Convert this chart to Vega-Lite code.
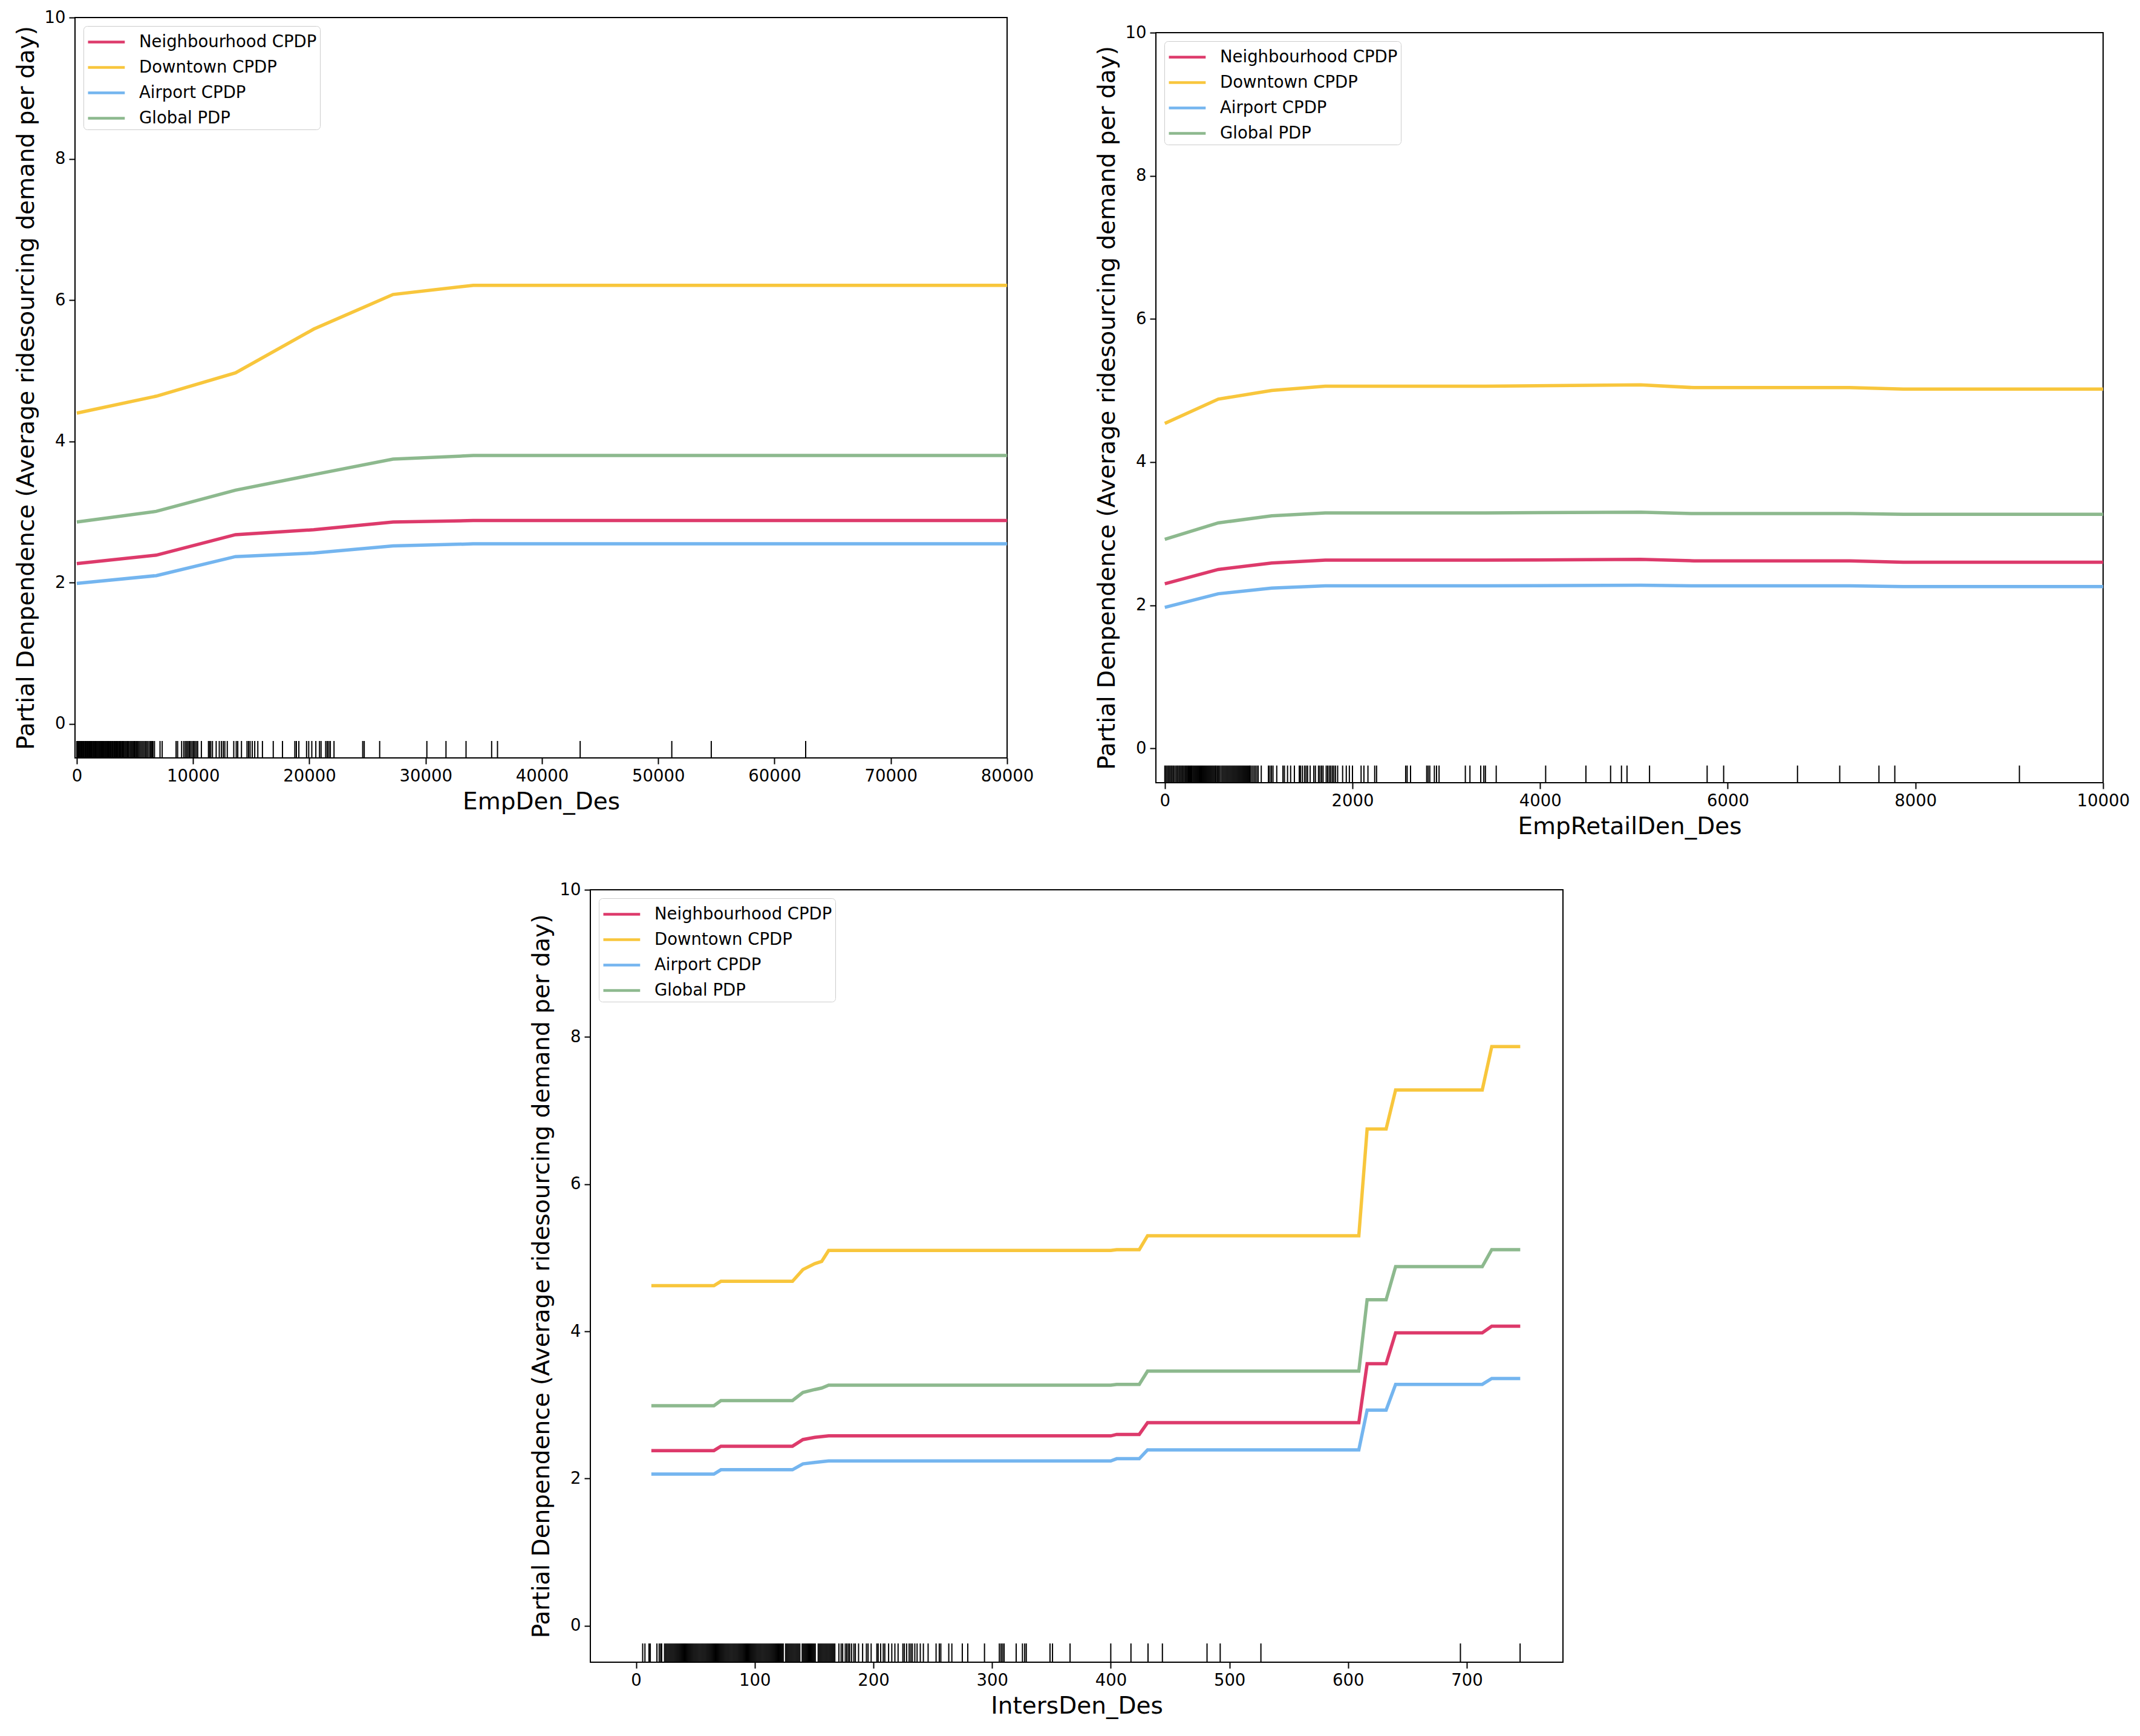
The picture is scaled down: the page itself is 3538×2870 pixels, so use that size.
{
  "$schema": "https://vega.github.io/schema/vega-lite/v6.json",
  "padding": {"left": 23, "top": 14, "right": 5, "bottom": 5},
  "background": "white",
  "datasets": {
    "tl_lines": [
      {"x": 0, "y": 2.27, "s": "Neighbourhood CPDP"}, {"x": 6830, "y": 2.39, "s": "Neighbourhood CPDP"}, {"x": 13650, "y": 2.68, "s": "Neighbourhood CPDP"}, {"x": 20380, "y": 2.75, "s": "Neighbourhood CPDP"}, {"x": 27200, "y": 2.86, "s": "Neighbourhood CPDP"}, {"x": 34100, "y": 2.88, "s": "Neighbourhood CPDP"}, {"x": 80000, "y": 2.88, "s": "Neighbourhood CPDP"},
      {"x": 0, "y": 4.40, "s": "Downtown CPDP"}, {"x": 6830, "y": 4.64, "s": "Downtown CPDP"}, {"x": 13650, "y": 4.97, "s": "Downtown CPDP"}, {"x": 20380, "y": 5.59, "s": "Downtown CPDP"}, {"x": 27200, "y": 6.08, "s": "Downtown CPDP"}, {"x": 34100, "y": 6.21, "s": "Downtown CPDP"}, {"x": 80000, "y": 6.21, "s": "Downtown CPDP"},
      {"x": 0, "y": 1.99, "s": "Airport CPDP"}, {"x": 6830, "y": 2.10, "s": "Airport CPDP"}, {"x": 13650, "y": 2.37, "s": "Airport CPDP"}, {"x": 20380, "y": 2.42, "s": "Airport CPDP"}, {"x": 27200, "y": 2.52, "s": "Airport CPDP"}, {"x": 34100, "y": 2.55, "s": "Airport CPDP"}, {"x": 80000, "y": 2.55, "s": "Airport CPDP"},
      {"x": 0, "y": 2.86, "s": "Global PDP"}, {"x": 6830, "y": 3.01, "s": "Global PDP"}, {"x": 13650, "y": 3.31, "s": "Global PDP"}, {"x": 20380, "y": 3.53, "s": "Global PDP"}, {"x": 27200, "y": 3.75, "s": "Global PDP"}, {"x": 34100, "y": 3.80, "s": "Global PDP"}, {"x": 80000, "y": 3.80, "s": "Global PDP"}
    ],
    "tl_rug": [
      {"x": 0}, {"x": 40}, {"x": 110}, {"x": 180}, {"x": 260}, {"x": 330}, {"x": 390}, {"x": 470}, {"x": 540}, {"x": 610}, {"x": 690}, {"x": 760}, {"x": 830}, {"x": 900}, {"x": 980}, {"x": 1050}, {"x": 1120}, {"x": 1200}, {"x": 1270}, {"x": 1340}, {"x": 1420}, {"x": 1490}, {"x": 1570}, {"x": 1640}, {"x": 1710}, {"x": 1790}, {"x": 1860}, {"x": 1940}, {"x": 2010}, {"x": 2090}, {"x": 2160}, {"x": 2240}, {"x": 2320}, {"x": 2390}, {"x": 2470}, {"x": 2550}, {"x": 2630}, {"x": 2710}, {"x": 2790}, {"x": 2870}, {"x": 2950}, {"x": 3030}, {"x": 3110}, {"x": 3190}, {"x": 3280}, {"x": 3360}, {"x": 3440}, {"x": 3530}, {"x": 3610}, {"x": 3700}, {"x": 3790}, {"x": 3870}, {"x": 3960}, {"x": 4050}, {"x": 4140}, {"x": 4230}, {"x": 4330}, {"x": 4420}, {"x": 4510}, {"x": 4610}, {"x": 4700}, {"x": 4800}, {"x": 4900}, {"x": 5000}, {"x": 5110}, {"x": 5210}, {"x": 5320}, {"x": 5430}, {"x": 5540}, {"x": 5650}, {"x": 5760}, {"x": 5880}, {"x": 6000}, {"x": 6110}, {"x": 6230}, {"x": 6350}, {"x": 6460}, {"x": 6550},
      {"x": 6684}, {"x": 7162}, {"x": 7347}, {"x": 8541}, {"x": 8674}, {"x": 9019}, {"x": 9204}, {"x": 9340}, {"x": 9450}, {"x": 9560}, {"x": 9680}, {"x": 9800}, {"x": 9920}, {"x": 10040}, {"x": 10160}, {"x": 10280}, {"x": 10400}, {"x": 10716}, {"x": 11326}, {"x": 11420}, {"x": 11520}, {"x": 11671}, {"x": 11989}, {"x": 12255}, {"x": 12440}, {"x": 12599}, {"x": 12732}, {"x": 12944}, {"x": 13501}, {"x": 13714}, {"x": 13846}, {"x": 14164}, {"x": 14642}, {"x": 14775}, {"x": 14907}, {"x": 15093}, {"x": 15305}, {"x": 15570}, {"x": 15968}, {"x": 16897}, {"x": 17692}, {"x": 18753}, {"x": 18886}, {"x": 19098}, {"x": 19761}, {"x": 19947}, {"x": 20212}, {"x": 20557}, {"x": 20875}, {"x": 21008}, {"x": 21406}, {"x": 21538}, {"x": 21671}, {"x": 21804}, {"x": 22122}, {"x": 24589}, {"x": 24721}, {"x": 26048}, {"x": 30106}, {"x": 31751}, {"x": 33475}, {"x": 35676}, {"x": 36180}, {"x": 43289}, {"x": 51167}, {"x": 54562}, {"x": 62679}
    ],
    "tr_lines": [
      {"x": 0, "y": 2.30, "s": "Neighbourhood CPDP"}, {"x": 570, "y": 2.50, "s": "Neighbourhood CPDP"}, {"x": 1140, "y": 2.59, "s": "Neighbourhood CPDP"}, {"x": 1710, "y": 2.63, "s": "Neighbourhood CPDP"}, {"x": 3420, "y": 2.63, "s": "Neighbourhood CPDP"}, {"x": 5070, "y": 2.64, "s": "Neighbourhood CPDP"}, {"x": 5640, "y": 2.62, "s": "Neighbourhood CPDP"}, {"x": 7300, "y": 2.62, "s": "Neighbourhood CPDP"}, {"x": 7870, "y": 2.60, "s": "Neighbourhood CPDP"}, {"x": 10000, "y": 2.60, "s": "Neighbourhood CPDP"},
      {"x": 0, "y": 4.54, "s": "Downtown CPDP"}, {"x": 570, "y": 4.88, "s": "Downtown CPDP"}, {"x": 1140, "y": 5.00, "s": "Downtown CPDP"}, {"x": 1710, "y": 5.06, "s": "Downtown CPDP"}, {"x": 3420, "y": 5.06, "s": "Downtown CPDP"}, {"x": 5070, "y": 5.08, "s": "Downtown CPDP"}, {"x": 5640, "y": 5.04, "s": "Downtown CPDP"}, {"x": 7300, "y": 5.04, "s": "Downtown CPDP"}, {"x": 7870, "y": 5.02, "s": "Downtown CPDP"}, {"x": 10000, "y": 5.02, "s": "Downtown CPDP"},
      {"x": 0, "y": 1.97, "s": "Airport CPDP"}, {"x": 570, "y": 2.16, "s": "Airport CPDP"}, {"x": 1140, "y": 2.24, "s": "Airport CPDP"}, {"x": 1710, "y": 2.27, "s": "Airport CPDP"}, {"x": 3420, "y": 2.27, "s": "Airport CPDP"}, {"x": 5070, "y": 2.28, "s": "Airport CPDP"}, {"x": 5640, "y": 2.27, "s": "Airport CPDP"}, {"x": 7300, "y": 2.27, "s": "Airport CPDP"}, {"x": 7870, "y": 2.26, "s": "Airport CPDP"}, {"x": 10000, "y": 2.26, "s": "Airport CPDP"},
      {"x": 0, "y": 2.92, "s": "Global PDP"}, {"x": 570, "y": 3.15, "s": "Global PDP"}, {"x": 1140, "y": 3.25, "s": "Global PDP"}, {"x": 1710, "y": 3.29, "s": "Global PDP"}, {"x": 3420, "y": 3.29, "s": "Global PDP"}, {"x": 5070, "y": 3.30, "s": "Global PDP"}, {"x": 5640, "y": 3.28, "s": "Global PDP"}, {"x": 7300, "y": 3.28, "s": "Global PDP"}, {"x": 7870, "y": 3.27, "s": "Global PDP"}, {"x": 10000, "y": 3.27, "s": "Global PDP"}
    ],
    "tr_rug": [
      {"x": 0}, {"x": 12}, {"x": 25}, {"x": 38}, {"x": 50}, {"x": 63}, {"x": 75}, {"x": 88}, {"x": 100}, {"x": 115}, {"x": 128}, {"x": 140}, {"x": 153}, {"x": 165}, {"x": 178}, {"x": 190}, {"x": 203}, {"x": 216}, {"x": 228}, {"x": 241}, {"x": 253}, {"x": 266}, {"x": 279}, {"x": 291}, {"x": 304}, {"x": 317}, {"x": 330}, {"x": 343}, {"x": 356}, {"x": 369}, {"x": 382}, {"x": 395}, {"x": 408}, {"x": 421}, {"x": 434}, {"x": 447}, {"x": 460}, {"x": 473}, {"x": 486}, {"x": 499}, {"x": 512}, {"x": 525}, {"x": 538}, {"x": 548}, {"x": 562}, {"x": 576}, {"x": 590}, {"x": 605}, {"x": 618}, {"x": 631}, {"x": 644}, {"x": 657}, {"x": 670}, {"x": 683}, {"x": 696}, {"x": 709}, {"x": 722}, {"x": 735}, {"x": 748}, {"x": 761}, {"x": 774}, {"x": 787}, {"x": 800}, {"x": 813}, {"x": 826}, {"x": 839}, {"x": 852}, {"x": 865}, {"x": 878}, {"x": 891}, {"x": 904}, {"x": 913},
      {"x": 929}, {"x": 946}, {"x": 962}, {"x": 979}, {"x": 995}, {"x": 1028}, {"x": 1104}, {"x": 1120}, {"x": 1137}, {"x": 1153}, {"x": 1193}, {"x": 1259}, {"x": 1275}, {"x": 1308}, {"x": 1341}, {"x": 1381}, {"x": 1433}, {"x": 1446}, {"x": 1466}, {"x": 1489}, {"x": 1506}, {"x": 1522}, {"x": 1549}, {"x": 1588}, {"x": 1605}, {"x": 1638}, {"x": 1654}, {"x": 1671}, {"x": 1687}, {"x": 1720}, {"x": 1736}, {"x": 1753}, {"x": 1769}, {"x": 1786}, {"x": 1802}, {"x": 1819}, {"x": 1842}, {"x": 1895}, {"x": 1934}, {"x": 1967}, {"x": 2000}, {"x": 2092}, {"x": 2122}, {"x": 2165}, {"x": 2237}, {"x": 2257}, {"x": 2567}, {"x": 2583}, {"x": 2619}, {"x": 2791}, {"x": 2807}, {"x": 2824}, {"x": 2873}, {"x": 2896}, {"x": 2923}, {"x": 3203}, {"x": 3252}, {"x": 3367}, {"x": 3400}, {"x": 3417}, {"x": 3532}, {"x": 4059}, {"x": 4488}, {"x": 4751}, {"x": 4867}, {"x": 4926}, {"x": 5166}, {"x": 5780}, {"x": 5956}, {"x": 6743}, {"x": 7193}, {"x": 7611}, {"x": 7780}, {"x": 9108}
    ],
    "b_lines": [
      {"x": 12.9, "y": 2.38, "s": "Neighbourhood CPDP"}, {"x": 65.6, "y": 2.38, "s": "Neighbourhood CPDP"}, {"x": 71.5, "y": 2.44, "s": "Neighbourhood CPDP"}, {"x": 131.8, "y": 2.44, "s": "Neighbourhood CPDP"}, {"x": 140.6, "y": 2.53, "s": "Neighbourhood CPDP"}, {"x": 150.6, "y": 2.56, "s": "Neighbourhood CPDP"}, {"x": 156.4, "y": 2.57, "s": "Neighbourhood CPDP"}, {"x": 162.3, "y": 2.58, "s": "Neighbourhood CPDP"}, {"x": 400, "y": 2.58, "s": "Neighbourhood CPDP"}, {"x": 405, "y": 2.60, "s": "Neighbourhood CPDP"}, {"x": 424, "y": 2.60, "s": "Neighbourhood CPDP"}, {"x": 431, "y": 2.76, "s": "Neighbourhood CPDP"}, {"x": 609, "y": 2.76, "s": "Neighbourhood CPDP"}, {"x": 616, "y": 3.56, "s": "Neighbourhood CPDP"}, {"x": 632, "y": 3.56, "s": "Neighbourhood CPDP"}, {"x": 640, "y": 3.98, "s": "Neighbourhood CPDP"}, {"x": 713, "y": 3.98, "s": "Neighbourhood CPDP"}, {"x": 721, "y": 4.07, "s": "Neighbourhood CPDP"}, {"x": 745, "y": 4.07, "s": "Neighbourhood CPDP"},
      {"x": 12.9, "y": 4.62, "s": "Downtown CPDP"}, {"x": 65.6, "y": 4.62, "s": "Downtown CPDP"}, {"x": 71.5, "y": 4.68, "s": "Downtown CPDP"}, {"x": 131.8, "y": 4.68, "s": "Downtown CPDP"}, {"x": 140.6, "y": 4.84, "s": "Downtown CPDP"}, {"x": 150.6, "y": 4.92, "s": "Downtown CPDP"}, {"x": 156.4, "y": 4.95, "s": "Downtown CPDP"}, {"x": 162.3, "y": 5.10, "s": "Downtown CPDP"}, {"x": 400, "y": 5.10, "s": "Downtown CPDP"}, {"x": 405, "y": 5.11, "s": "Downtown CPDP"}, {"x": 424, "y": 5.11, "s": "Downtown CPDP"}, {"x": 431, "y": 5.30, "s": "Downtown CPDP"}, {"x": 609, "y": 5.30, "s": "Downtown CPDP"}, {"x": 616, "y": 6.75, "s": "Downtown CPDP"}, {"x": 632, "y": 6.75, "s": "Downtown CPDP"}, {"x": 640, "y": 7.28, "s": "Downtown CPDP"}, {"x": 713, "y": 7.28, "s": "Downtown CPDP"}, {"x": 721, "y": 7.87, "s": "Downtown CPDP"}, {"x": 745, "y": 7.87, "s": "Downtown CPDP"},
      {"x": 12.9, "y": 2.06, "s": "Airport CPDP"}, {"x": 65.6, "y": 2.06, "s": "Airport CPDP"}, {"x": 71.5, "y": 2.12, "s": "Airport CPDP"}, {"x": 131.8, "y": 2.12, "s": "Airport CPDP"}, {"x": 140.6, "y": 2.20, "s": "Airport CPDP"}, {"x": 150.6, "y": 2.22, "s": "Airport CPDP"}, {"x": 156.4, "y": 2.23, "s": "Airport CPDP"}, {"x": 162.3, "y": 2.24, "s": "Airport CPDP"}, {"x": 400, "y": 2.24, "s": "Airport CPDP"}, {"x": 405, "y": 2.27, "s": "Airport CPDP"}, {"x": 424, "y": 2.27, "s": "Airport CPDP"}, {"x": 431, "y": 2.39, "s": "Airport CPDP"}, {"x": 609, "y": 2.39, "s": "Airport CPDP"}, {"x": 616, "y": 2.93, "s": "Airport CPDP"}, {"x": 632, "y": 2.93, "s": "Airport CPDP"}, {"x": 640, "y": 3.28, "s": "Airport CPDP"}, {"x": 713, "y": 3.28, "s": "Airport CPDP"}, {"x": 721, "y": 3.36, "s": "Airport CPDP"}, {"x": 745, "y": 3.36, "s": "Airport CPDP"},
      {"x": 12.9, "y": 2.99, "s": "Global PDP"}, {"x": 65.6, "y": 2.99, "s": "Global PDP"}, {"x": 71.5, "y": 3.06, "s": "Global PDP"}, {"x": 131.8, "y": 3.06, "s": "Global PDP"}, {"x": 140.6, "y": 3.17, "s": "Global PDP"}, {"x": 150.6, "y": 3.21, "s": "Global PDP"}, {"x": 156.4, "y": 3.23, "s": "Global PDP"}, {"x": 162.3, "y": 3.27, "s": "Global PDP"}, {"x": 400, "y": 3.27, "s": "Global PDP"}, {"x": 405, "y": 3.28, "s": "Global PDP"}, {"x": 424, "y": 3.28, "s": "Global PDP"}, {"x": 431, "y": 3.46, "s": "Global PDP"}, {"x": 609, "y": 3.46, "s": "Global PDP"}, {"x": 616, "y": 4.43, "s": "Global PDP"}, {"x": 632, "y": 4.43, "s": "Global PDP"}, {"x": 640, "y": 4.88, "s": "Global PDP"}, {"x": 713, "y": 4.88, "s": "Global PDP"}, {"x": 721, "y": 5.11, "s": "Global PDP"}, {"x": 745, "y": 5.11, "s": "Global PDP"}
    ],
    "b_rug": [
      {"x": 5.6}, {"x": 7.5}, {"x": 10.9}, {"x": 12}, {"x": 17.6}, {"x": 19.5}, {"x": 20.8}, {"x": 21.6},
      {"x": 24}, {"x": 25}, {"x": 26}, {"x": 27}, {"x": 28}, {"x": 29}, {"x": 30}, {"x": 31}, {"x": 32}, {"x": 33}, {"x": 34}, {"x": 35}, {"x": 36}, {"x": 37}, {"x": 38}, {"x": 39}, {"x": 40}, {"x": 41}, {"x": 42}, {"x": 43}, {"x": 44}, {"x": 45}, {"x": 46}, {"x": 47}, {"x": 48}, {"x": 49}, {"x": 50}, {"x": 51}, {"x": 52}, {"x": 53}, {"x": 54}, {"x": 55}, {"x": 56}, {"x": 57}, {"x": 58}, {"x": 59}, {"x": 60}, {"x": 61}, {"x": 62}, {"x": 63}, {"x": 64}, {"x": 65}, {"x": 66}, {"x": 67}, {"x": 68}, {"x": 69}, {"x": 70}, {"x": 71}, {"x": 72}, {"x": 73}, {"x": 74}, {"x": 75}, {"x": 76}, {"x": 77}, {"x": 78}, {"x": 79}, {"x": 80}, {"x": 81}, {"x": 82}, {"x": 83}, {"x": 84}, {"x": 85}, {"x": 86}, {"x": 87}, {"x": 88}, {"x": 89}, {"x": 90}, {"x": 91}, {"x": 92}, {"x": 93}, {"x": 94}, {"x": 95}, {"x": 96}, {"x": 97}, {"x": 98}, {"x": 99}, {"x": 100}, {"x": 101}, {"x": 102}, {"x": 103}, {"x": 104}, {"x": 105}, {"x": 106}, {"x": 107}, {"x": 108}, {"x": 109}, {"x": 110}, {"x": 111}, {"x": 112}, {"x": 113}, {"x": 114}, {"x": 115}, {"x": 116}, {"x": 117}, {"x": 118}, {"x": 119}, {"x": 120}, {"x": 121}, {"x": 122}, {"x": 123}, {"x": 124},
      {"x": 126}, {"x": 127}, {"x": 128}, {"x": 129}, {"x": 130}, {"x": 131}, {"x": 132}, {"x": 133}, {"x": 134}, {"x": 135}, {"x": 136}, {"x": 137}, {"x": 138},
      {"x": 140}, {"x": 141}, {"x": 142}, {"x": 143}, {"x": 144}, {"x": 145}, {"x": 146}, {"x": 147}, {"x": 148}, {"x": 149}, {"x": 150}, {"x": 151},
      {"x": 153.5}, {"x": 154.5}, {"x": 155.5}, {"x": 156.5}, {"x": 157.5}, {"x": 158.5}, {"x": 159.5}, {"x": 160.5}, {"x": 161.5}, {"x": 162.5}, {"x": 163.5}, {"x": 164.5}, {"x": 165.5}, {"x": 166.5}, {"x": 167.5},
      {"x": 170.9}, {"x": 172.8}, {"x": 174.1}, {"x": 176.3}, {"x": 177.6}, {"x": 178.9}, {"x": 180}, {"x": 181.6}, {"x": 183.5}, {"x": 184.8}, {"x": 187.5}, {"x": 190.9}, {"x": 194.1}, {"x": 195.5}, {"x": 198.1}, {"x": 202.9}, {"x": 204}, {"x": 206.1}, {"x": 208.3}, {"x": 209.6}, {"x": 212.8}, {"x": 215.5}, {"x": 218.1}, {"x": 220.8}, {"x": 224.8}, {"x": 226.1}, {"x": 228}, {"x": 230.1}, {"x": 231.5}, {"x": 232.8}, {"x": 234.9}, {"x": 236.8}, {"x": 239.5}, {"x": 242.1}, {"x": 246.1}, {"x": 252.8}, {"x": 255.5}, {"x": 256.8}, {"x": 263.5}, {"x": 266.1}, {"x": 274.9}, {"x": 279.5}, {"x": 293.6}, {"x": 306.1}, {"x": 307.5}, {"x": 308.8}, {"x": 310.1}, {"x": 320.3}, {"x": 325.6}, {"x": 327.5}, {"x": 328.8}, {"x": 348.8}, {"x": 350.9}, {"x": 365.7}, {"x": 400}, {"x": 417}, {"x": 431.4}, {"x": 443.5}, {"x": 481.1}, {"x": 492.2}, {"x": 526.5}, {"x": 694.6}, {"x": 744.9}
    ]
  },
  "config": {
    "font": "DejaVu Sans",
    "view": {"stroke": "black", "strokeWidth": 2},
    "axis": {
      "grid": false, "domain": false,
      "tickColor": "black", "tickWidth": 2, "tickSize": 10,
      "labelFont": "DejaVu Sans", "labelFontSize": 27.5, "labelColor": "black", "labelPadding": 6,
      "labelFlush": false, "labelOverlap": false, "labelBound": false,
      "titleFont": "DejaVu Sans", "titleFontSize": 39, "titleFontWeight": "normal", "titleColor": "black", "titlePadding": 10
    },
    "legend": {
      "orient": "top-left", "offset": 14, "title": null,
      "padding": 5, "rowPadding": 7, "labelLimit": 800,
      "strokeColor": "#cccccc", "fillColor": "rgba(255,255,255,0.85)", "cornerRadius": 6,
      "symbolType": "M-1,0H2.2", "symbolSize": 1444, "symbolStrokeWidth": 4.5,
      "labelFont": "DejaVu Sans", "labelFontSize": 27.5, "labelColor": "black", "labelOffset": 44
    }
  },
  "resolve": {"scale": {"x": "independent", "y": "independent", "color": "independent"}, "legend": {"color": "independent"}},
  "spacing": 68,
  "vconcat": [
    {
      "hconcat": [
        {
          "width": 1541, "height": 1224,
          "layer": [
            {
              "data": {"name": "tl_lines"},
              "mark": {"type": "line", "clip": true, "strokeWidth": 5.5},
              "encoding": {
                "x": {"field": "x", "type": "quantitative", "title": "EmpDen_Des", "scale": {"domain": [-150, 80000], "nice": false, "zero": false}, "axis": {"values": [0, 10000, 20000, 30000, 40000, 50000, 60000, 70000, 80000], "format": "d"}},
                "y": {"field": "y", "type": "quantitative", "title": "Partial Denpendence (Average ridesourcing demand per day)", "scale": {"domain": [-0.48, 10], "nice": false, "zero": false}, "axis": {"values": [0, 2, 4, 6, 8, 10], "format": "d"}},
                "color": {"field": "s", "type": "nominal", "scale": {"domain": ["Neighbourhood CPDP", "Downtown CPDP", "Airport CPDP", "Global PDP"], "range": ["#DD3A6B", "#F8C63C", "#74B5EF", "#8DB98E"]}}
              }
            },
            {
              "data": {"name": "tl_rug"},
              "mark": {"type": "rule", "color": "black", "strokeWidth": 2},
              "encoding": {
                "x": {"field": "x", "type": "quantitative", "title": "EmpDen_Des"},
                "y": {"datum": -0.48},
                "y2": {"datum": -0.24}
              }
            }
          ]
        },
        {
          "vconcat": [
            {
              "width": 10, "height": 1,
              "view": {"stroke": null},
              "data": {"values": [{}]},
              "mark": {"type": "point", "opacity": 0},
              "encoding": {}
            },
            {
              "width": 1566, "height": 1240,
              "layer": [
                {
                  "data": {"name": "tr_lines"},
                  "mark": {"type": "line", "clip": true, "strokeWidth": 5.5},
                  "encoding": {
                    "x": {"field": "x", "type": "quantitative", "title": "EmpRetailDen_Des", "scale": {"domain": [-95, 10000], "nice": false, "zero": false}, "axis": {"values": [0, 2000, 4000, 6000, 8000, 10000], "format": "d"}},
                    "y": {"field": "y", "type": "quantitative", "title": "Partial Denpendence (Average ridesourcing demand per day)", "scale": {"domain": [-0.48, 10], "nice": false, "zero": false}, "axis": {"values": [0, 2, 4, 6, 8, 10], "format": "d"}},
                    "color": {"field": "s", "type": "nominal", "scale": {"domain": ["Neighbourhood CPDP", "Downtown CPDP", "Airport CPDP", "Global PDP"], "range": ["#DD3A6B", "#F8C63C", "#74B5EF", "#8DB98E"]}}
                  }
                },
                {
                  "data": {"name": "tr_rug"},
                  "mark": {"type": "rule", "color": "black", "strokeWidth": 2},
                  "encoding": {
                    "x": {"field": "x", "type": "quantitative", "title": "EmpRetailDen_Des"},
                    "y": {"datum": -0.48},
                    "y2": {"datum": -0.24}
                  }
                }
              ]
            }
          ],
          "spacing": 6,
          "resolve": {"scale": {"x": "independent", "y": "independent", "color": "independent"}, "legend": {"color": "independent"}}
        }
      ],
      "spacing": 100,
      "resolve": {"scale": {"x": "independent", "y": "independent", "color": "independent"}, "legend": {"color": "independent"}}
    },
    {
      "hconcat": [
        {
          "width": 701, "height": 10,
          "view": {"stroke": null},
          "data": {"values": [{}]},
          "mark": {"type": "point", "opacity": 0},
          "encoding": {}
        },
        {
          "width": 1608, "height": 1277,
          "layer": [
            {
              "data": {"name": "b_lines"},
              "mark": {"type": "line", "clip": true, "strokeWidth": 5.5},
              "encoding": {
                "x": {"field": "x", "type": "quantitative", "title": "IntersDen_Des", "scale": {"domain": [-38.5, 781], "nice": false, "zero": false}, "axis": {"values": [0, 100, 200, 300, 400, 500, 600, 700], "format": "d"}},
                "y": {"field": "y", "type": "quantitative", "title": "Partial Denpendence (Average ridesourcing demand per day)", "scale": {"domain": [-0.495, 10], "nice": false, "zero": false}, "axis": {"values": [0, 2, 4, 6, 8, 10], "format": "d"}},
                "color": {"field": "s", "type": "nominal", "scale": {"domain": ["Neighbourhood CPDP", "Downtown CPDP", "Airport CPDP", "Global PDP"], "range": ["#DD3A6B", "#F8C63C", "#74B5EF", "#8DB98E"]}}
              }
            },
            {
              "data": {"name": "b_rug"},
              "mark": {"type": "rule", "color": "black", "strokeWidth": 2},
              "encoding": {
                "x": {"field": "x", "type": "quantitative", "title": "IntersDen_Des"},
                "y": {"datum": -0.495},
                "y2": {"datum": -0.24}
              }
            }
          ]
        }
      ],
      "spacing": 50,
      "resolve": {"scale": {"x": "independent", "y": "independent", "color": "independent"}, "legend": {"color": "independent"}}
    }
  ]
}
